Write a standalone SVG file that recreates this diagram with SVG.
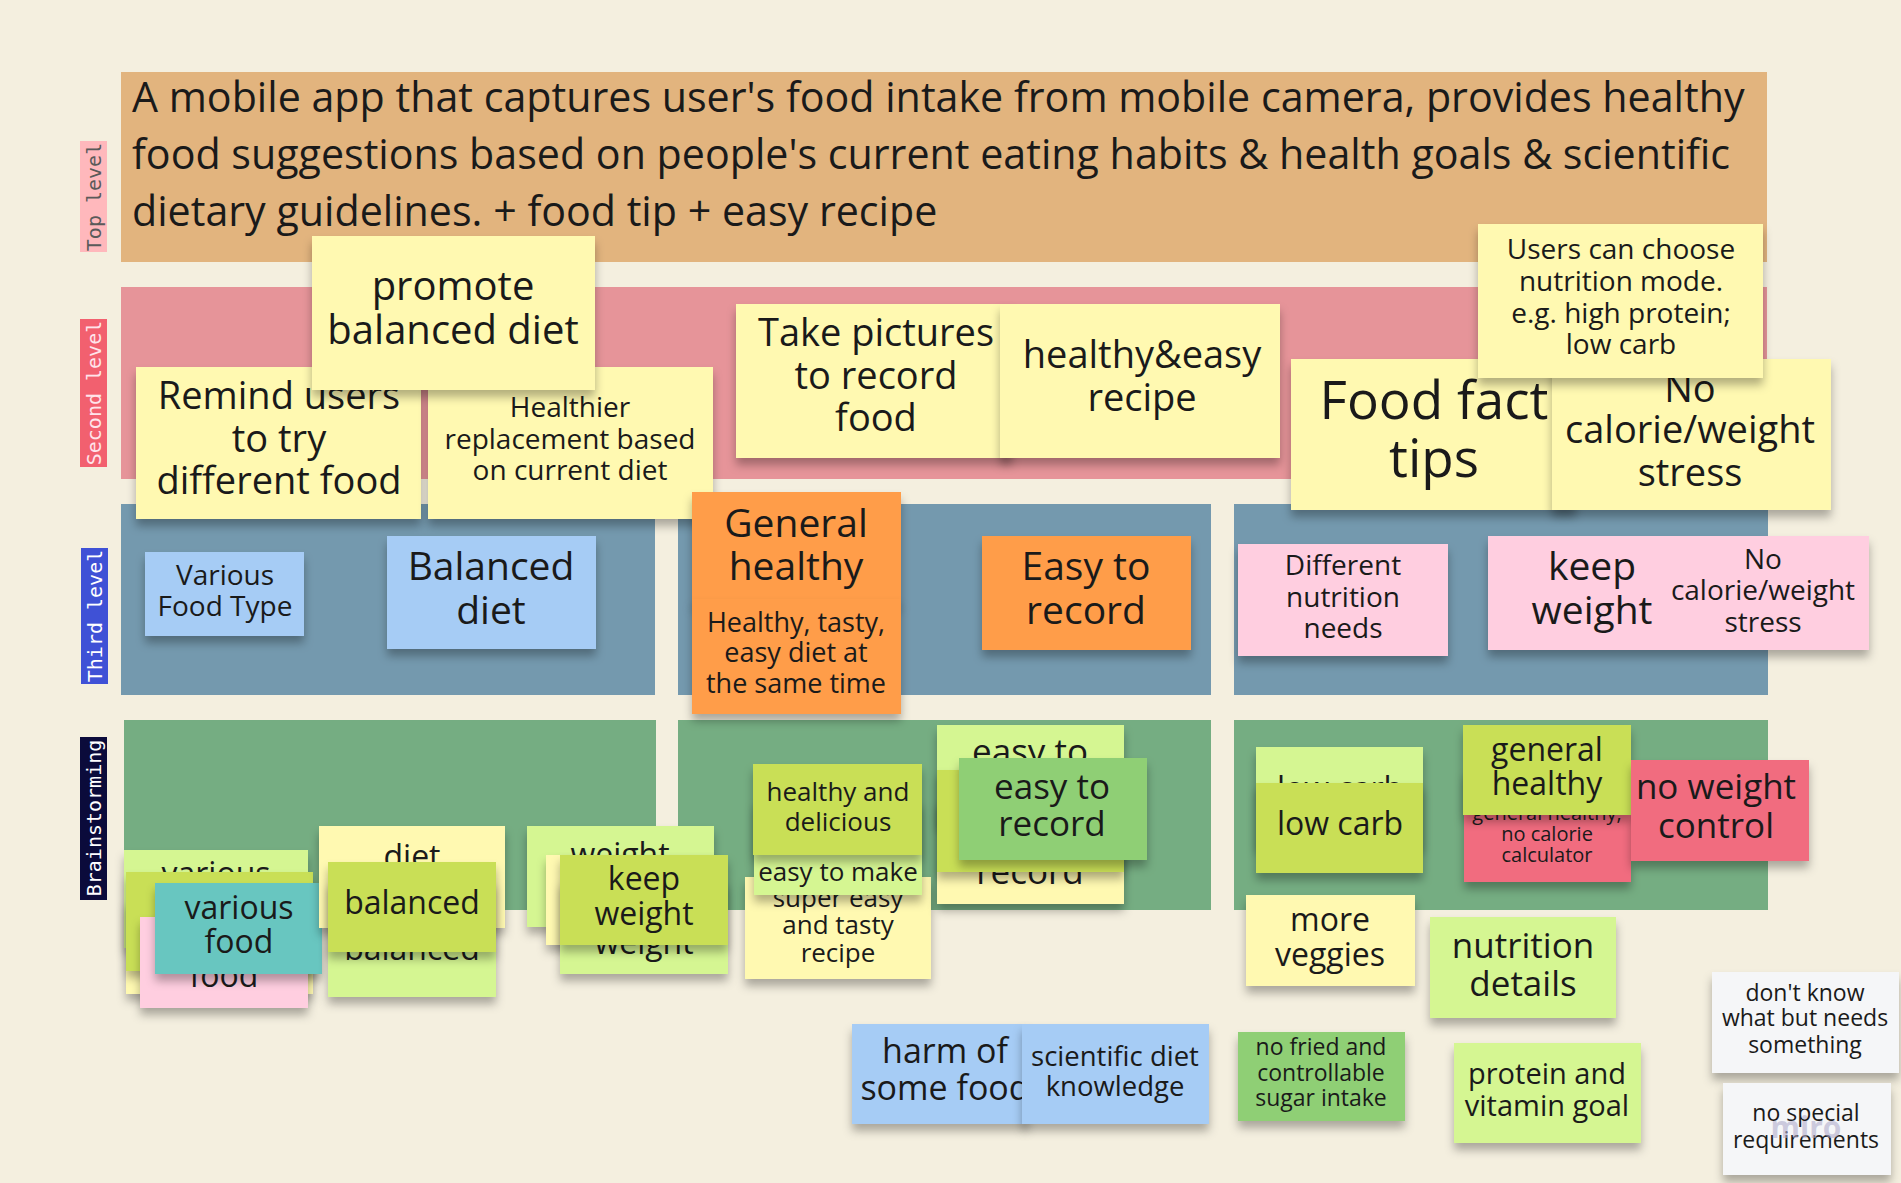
<svg xmlns="http://www.w3.org/2000/svg" width="1901" height="1183" viewBox="0 0 1901 1183">
<defs>
<filter id="sh" x="-10%" y="-10%" width="120%" height="135%">
<feDropShadow dx="0" dy="7" stdDeviation="5" flood-color="#000" flood-opacity="0.3"/>
</filter>
<style>
.s{filter:url(#sh)}
.y{fill:#FFF9B1}.lb{fill:#A6CCF5}.o{fill:#FF9D48}.p{fill:#FFCEE0}.lg{fill:#D5F692}.yg{fill:#C9DF56}.t{fill:#67C6C0}.g{fill:#8FCF74}.r{fill:#F16C7F}.w{fill:#F5F6F8}
.tx{font-family:"Open Sans","Liberation Sans",sans-serif;fill:#1a1a1a;text-anchor:middle}
.hd{font-family:"Open Sans","Liberation Sans",sans-serif;font-size:41.2px;fill:#1a1a1a}
.lbl{font-family:"DejaVu Sans Mono","Liberation Mono",monospace;font-size:20px;text-anchor:middle}
</style>
</defs>
<rect width="1901" height="1183" fill="#F4EFDF"/>

<g id="lanes">
<rect x="121" y="72" width="1646" height="190" fill="#E2B47E"/>
<text class="hd" x="132" y="112">A mobile app that captures user's food intake from mobile camera, provides healthy</text>
<text class="hd" x="132" y="169">food suggestions based on people's current eating habits &amp; health goals &amp; scientific</text>
<text class="hd" x="132" y="226">dietary guidelines. + food tip + easy recipe</text>
<rect x="121" y="287" width="1646" height="192" fill="#E69499"/>
<rect x="121" y="504" width="534" height="191" fill="#7499AE"/>
<rect x="678" y="504" width="533" height="191" fill="#7499AE"/>
<rect x="1234" y="504" width="534" height="191" fill="#7499AE"/>
<rect x="124" y="720" width="532" height="190" fill="#75AD82"/>
<rect x="678" y="720" width="533" height="190" fill="#75AD82"/>
<rect x="1234" y="720" width="534" height="190" fill="#75AD82"/>
</g>

<g id="labels">
<rect x="80" y="141" width="27" height="111" fill="#FFB8BC"/>
<text class="lbl" transform="translate(94,197) rotate(-90)" y="7" fill="#5a5a5a">Top level</text>
<rect x="80" y="319" width="27" height="148" fill="#F2606F"/>
<text class="lbl" transform="translate(94,393) rotate(-90)" y="7" fill="#FFE4EA">Second level</text>
<rect x="81" y="548" width="27" height="136" fill="#3F51D6"/>
<text class="lbl" transform="translate(95,616) rotate(-90)" y="7" fill="#FFFFFF">Third level</text>
<rect x="80" y="737" width="27" height="163" fill="#0B0B3B"/>
<text class="lbl" transform="translate(94,818) rotate(-90)" y="7" fill="#FFFFFF">Brainstorming</text>
</g>

<g id="connectors"></g>

<g id="n-remind"><rect class="s y" x="136" y="367" width="285" height="152"/>
<text class="tx" font-size="38"><tspan x="279" y="409">Remind users</tspan><tspan x="279" y="452">to try</tspan><tspan x="279" y="494">different food</tspan></text></g>
<g id="n-healthier"><rect class="s y" x="428" y="367" width="285" height="152"/>
<text class="tx" font-size="28"><tspan x="570" y="417">Healthier</tspan><tspan x="570" y="449">replacement based</tspan><tspan x="570" y="480">on current diet</tspan></text></g>
<g id="n-promote"><rect class="s y" x="312" y="236" width="283" height="154"/>
<text class="tx" font-size="40"><tspan x="453" y="300">promote</tspan><tspan x="453" y="344">balanced diet</tspan></text></g>
<g id="n-takepic"><rect class="s y" x="736" y="304" width="276" height="154"/>
<text class="tx" font-size="38"><tspan x="876" y="346">Take pictures</tspan><tspan x="876" y="389">to record</tspan><tspan x="876" y="431">food</tspan></text></g>
<g id="n-healthyeasy"><rect class="s y" x="1000" y="304" width="280" height="154"/>
<text class="tx" font-size="38"><tspan x="1142" y="368">healthy&amp;easy</tspan><tspan x="1142" y="411">recipe</tspan></text></g>
<g id="n-foodfact"><rect class="s y" x="1291" y="359" width="285" height="151"/>
<text class="tx" font-size="53"><tspan x="1434" y="419">Food fact</tspan><tspan x="1434" y="477">tips</tspan></text></g>
<g id="n-nocal1"><rect class="s y" x="1552" y="359" width="279" height="151"/>
<text class="tx" font-size="38"><tspan x="1690" y="402">No</tspan><tspan x="1690" y="443">calorie/weight</tspan><tspan x="1690" y="486">stress</tspan></text></g>
<g id="n-userscan"><rect class="s y" x="1478" y="224" width="285" height="154"/>
<text class="tx" font-size="28"><tspan x="1621" y="259">Users can choose</tspan><tspan x="1621" y="291">nutrition mode.</tspan><tspan x="1621" y="323">e.g. high protein;</tspan><tspan x="1621" y="354">low carb</tspan></text></g>

<g id="n-variousft"><rect class="s lb" x="145" y="552" width="159" height="84"/>
<text class="tx" font-size="28"><tspan x="225" y="585">Various</tspan><tspan x="225" y="616">Food Type</tspan></text></g>
<g id="n-balanceddiet"><rect class="s lb" x="387" y="536" width="209" height="113"/>
<text class="tx" font-size="39"><tspan x="491" y="580">Balanced</tspan><tspan x="491" y="624">diet</tspan></text></g>
<g id="n-generalhealthy"><rect class="s o" x="692" y="492" width="209" height="112"/>
<text class="tx" font-size="39"><tspan x="796" y="537">General</tspan><tspan x="796" y="580">healthy</tspan></text></g>
<g id="n-healthytasty"><rect class="s o" x="692" y="599" width="209" height="115"/>
<text class="tx" font-size="27"><tspan x="796" y="632">Healthy, tasty,</tspan><tspan x="796" y="662">easy diet at</tspan><tspan x="796" y="693">the same time</tspan></text></g>
<g id="n-easyrecord"><rect class="s o" x="982" y="536" width="209" height="114"/>
<text class="tx" font-size="39"><tspan x="1086" y="580">Easy to</tspan><tspan x="1086" y="624">record</tspan></text></g>
<g id="n-different"><rect class="s p" x="1238" y="544" width="210" height="112"/>
<text class="tx" font-size="28"><tspan x="1343" y="575">Different</tspan><tspan x="1343" y="607">nutrition</tspan><tspan x="1343" y="638">needs</tspan></text></g>
<g id="n-keepweight-p"><rect class="s p" x="1488" y="536" width="381" height="114"/>
<text class="tx" font-size="39"><tspan x="1592" y="580">keep</tspan><tspan x="1592" y="624">weight</tspan></text></g>
<g id="n-nocal-p"><rect class="p" x="1672" y="537" width="196" height="112"/>
<text class="tx" font-size="28"><tspan x="1763" y="569">No</tspan><tspan x="1763" y="600">calorie/weight</tspan><tspan x="1763" y="632">stress</tspan></text></g>

<g id="n-various-lg"><rect class="s lg" x="124" y="850" width="184" height="98"/>
<text class="tx" font-size="32" x="216" y="885">various</text></g>
<g id="n-back-y1"><rect class="s y" x="126" y="900" width="187" height="94"/></g>
<g id="n-back-yg1"><rect class="s yg" x="126" y="872" width="187" height="99"/></g>
<g id="n-food-p"><rect class="s p" x="140" y="917" width="168" height="91"/>
<text class="tx" font-size="32" x="224" y="987">food</text></g>
<g id="n-variousfood"><rect class="s t" x="155" y="883" width="167" height="91"/>
<text class="tx" font-size="32"><tspan x="239" y="919">various</tspan><tspan x="239" y="953">food</tspan></text></g>

<g id="n-diet"><rect class="s y" x="319" y="826" width="186" height="102"/>
<text class="tx" font-size="32" x="412" y="868">diet</text></g>
<g id="n-balanced-lg"><rect class="s lg" x="328" y="880" width="168" height="117"/>
<text class="tx" font-size="32" x="412" y="960">balanced</text></g>
<g id="n-balanced"><rect class="s yg" x="328" y="862" width="168" height="90"/>
<text class="tx" font-size="32" x="412" y="914">balanced</text></g>

<g id="n-weight-lg"><rect class="s lg" x="527" y="826" width="187" height="101"/>
<text class="tx" font-size="32" x="620" y="866">weight</text></g>
<g id="n-back-y2"><rect class="s y" x="546" y="855" width="170" height="90"/></g>
<g id="n-weight-lg2"><rect class="s lg" x="560" y="880" width="168" height="94"/>
<text class="tx" font-size="32" x="644" y="954">weight</text></g>
<g id="n-keepweight"><rect class="s yg" x="560" y="855" width="168" height="90"/>
<text class="tx" font-size="32"><tspan x="644" y="890">keep</tspan><tspan x="644" y="925">weight</tspan></text></g>

<g id="n-supereasy"><rect class="s y" x="745" y="877" width="186" height="102"/>
<text class="tx" font-size="26"><tspan x="838" y="907">super easy</tspan><tspan x="838" y="934">and tasty</tspan><tspan x="838" y="962">recipe</tspan></text></g>
<g id="n-easymake"><rect class="s lg" x="754" y="800" width="168" height="95"/>
<text class="tx" font-size="26" x="838" y="881">easy to make</text></g>
<g id="n-healthydelicious"><rect class="s yg" x="753" y="764" width="169" height="91"/>
<text class="tx" font-size="26"><tspan x="838" y="801">healthy and</tspan><tspan x="838" y="831">delicious</tspan></text></g>

<g id="n-easyto-lg"><rect class="s lg" x="937" y="725" width="187" height="100"/>
<text class="tx" font-size="35" x="1030" y="764">easy to</text></g>
<g id="n-record-y"><rect class="s y" x="937" y="800" width="187" height="104"/>
<text class="tx" font-size="35" x="1030" y="884">record</text></g>
<g id="n-back-yg2"><rect class="s yg" x="937" y="770" width="187" height="102"/></g>
<g id="n-easytorecord"><rect class="s g" x="959" y="758" width="188" height="102"/>
<text class="tx" font-size="35"><tspan x="1052" y="799">easy to</tspan><tspan x="1052" y="836">record</tspan></text></g>

<g id="n-lowcarb-lg"><rect class="s lg" x="1256" y="747" width="167" height="100"/>
<text class="tx" font-size="32" x="1340" y="800">low carb</text></g>
<g id="n-lowcarb"><rect class="s yg" x="1256" y="783" width="167" height="90"/>
<text class="tx" font-size="32" x="1340" y="835">low carb</text></g>
<g id="n-nocalcalc"><rect class="s r" x="1464" y="770" width="167" height="112"/>
<text class="tx" font-size="20"><tspan x="1547" y="820">general healthy,</tspan><tspan x="1547" y="841">no calorie</tspan><tspan x="1547" y="862">calculator</tspan></text></g>
<g id="n-generalhealthy2"><rect class="s yg" x="1463" y="725" width="168" height="90"/>
<text class="tx" font-size="32"><tspan x="1547" y="761">general</tspan><tspan x="1547" y="795">healthy</tspan></text></g>
<g id="n-noweight"><rect class="s r" x="1631" y="760" width="178" height="101"/>
<text class="tx" font-size="35"><tspan x="1716" y="799">no weight</tspan><tspan x="1716" y="838">control</tspan></text></g>

<g id="n-moreveggies"><rect class="s y" x="1246" y="895" width="169" height="91"/>
<text class="tx" font-size="32"><tspan x="1330" y="931">more</tspan><tspan x="1330" y="966">veggies</tspan></text></g>
<g id="n-nutritiondetails"><rect class="s lg" x="1430" y="917" width="186" height="101"/>
<text class="tx" font-size="35"><tspan x="1523" y="958">nutrition</tspan><tspan x="1523" y="996">details</tspan></text></g>
<g id="n-harm"><rect class="s lb" x="852" y="1024" width="176" height="100"/>
<text class="tx" font-size="34"><tspan x="945" y="1063">harm of</tspan><tspan x="945" y="1100">some food</tspan></text></g>
<g id="n-scientific"><rect class="s lb" x="1022" y="1024" width="187" height="100"/>
<text class="tx" font-size="27.5"><tspan x="1115" y="1066">scientific diet</tspan><tspan x="1115" y="1096">knowledge</tspan></text></g>
<g id="n-nofried"><rect class="s g" x="1238" y="1032" width="167" height="89"/>
<text class="tx" font-size="23"><tspan x="1321" y="1055">no fried and</tspan><tspan x="1321" y="1081">controllable</tspan><tspan x="1321" y="1106">sugar intake</tspan></text></g>
<g id="n-protein"><rect class="s lg" x="1454" y="1043" width="187" height="100"/>
<text class="tx" font-size="29"><tspan x="1547" y="1084">protein and</tspan><tspan x="1547" y="1116">vitamin goal</tspan></text></g>
<g id="n-dontknow"><rect class="s w" x="1712" y="972" width="187" height="101"/>
<text class="tx" font-size="23"><tspan x="1805" y="1001">don't know</tspan><tspan x="1805" y="1026">what but needs</tspan><tspan x="1805" y="1053">something</tspan></text></g>
<g id="n-nospecial"><rect class="s w" x="1723" y="1083" width="168" height="92"/>
<text class="tx" font-size="23"><tspan x="1806" y="1121">no special</tspan><tspan x="1806" y="1148">requirements</tspan></text></g>
<text x="1806" y="1138" font-family="Open Sans, Liberation Sans, sans-serif" font-size="30" font-weight="bold" fill="#B0ACCB" fill-opacity="0.6" text-anchor="middle">miro</text>
</svg>
